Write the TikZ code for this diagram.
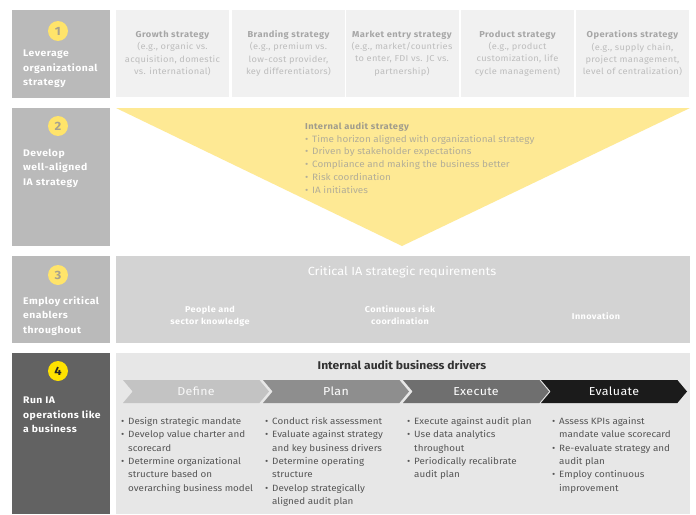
\documentclass[tikz,border=0pt]{standalone}
\usepackage{fontspec}
\setmainfont{Fira Sans}[FakeStretch=1.08]
\newfontfamily\lsfam{Fira Sans}[FakeStretch=1.08, LetterSpace=3]
\newfontfamily\bsfam{Fira Sans}[FakeStretch=1.08, LetterSpace=5]
\usetikzlibrary{shapes.symbols}
\definecolor{lbox}{HTML}{BABABA}
\definecolor{dbox}{HTML}{626262}
\definecolor{rone}{HTML}{F1F1F1}
\definecolor{ronetitle}{HTML}{A6A6A6}
\definecolor{ronebody}{HTML}{BDBDBD}
\definecolor{tri}{HTML}{FEE994}
\definecolor{circy}{HTML}{FFE46A}
\definecolor{circyy}{HTML}{FFE200}
\definecolor{numgrey}{HTML}{A7A18E}
\definecolor{rthree}{HTML}{D3D3D3}
\definecolor{rfour}{HTML}{E7E7E7}
\definecolor{chA}{HTML}{C3C3C3}
\definecolor{chB}{HTML}{8E8E8E}
\definecolor{chC}{HTML}{6F6F6F}
\definecolor{chD}{HTML}{1B1B1B}
\definecolor{bultext}{HTML}{555555}
\definecolor{tritext}{HTML}{B3AE98}
\definecolor{trititle}{HTML}{A09C8C}
\newcommand{\bu}{\makebox[7pt][l]{\textbullet}}
\newcommand{\ind}{\hspace*{7pt}}
\tikzset{
  leftbox/.style={rectangle, fill=lbox, minimum width=98pt, inner sep=0pt},
  leftlabel/.style={anchor=west, align=left, text=white, font=\bsfam\fontsize{9.6}{14.5}\selectfont\bfseries, inner sep=0pt},
  numcirc/.style={circle, fill=circy, minimum size=20pt, inner sep=0pt, text=numgrey, font=\fontsize{12}{12}\selectfont\bfseries},
  onebox/.style={rectangle, fill=rone, minimum width=113pt, minimum height=87pt, inner sep=0pt},
  onetext/.style={align=center, text=ronebody, font=\lsfam\fontsize{8.6}{12.3}\selectfont, inner sep=0pt},
  chev/.style={signal, signal to=east, signal from=west, signal pointer angle=100, minimum width=146pt, minimum height=23pt, inner sep=0pt, text=white, font=\lsfam\fontsize{11.5}{12}\selectfont},
  bullets/.style={anchor=north west, align=left, text=bultext, font=\fontsize{9.1}{13.4}\selectfont, inner sep=0pt},
  reqitem/.style={align=center, text=white, font=\bsfam\fontsize{8.4}{12.5}\selectfont\bfseries, inner sep=0pt},
}
\newcommand{\rtitle}[1]{\textcolor{ronetitle}{\bsfam\fontsize{8.6}{12.3}\selectfont\bfseries #1}}
\begin{document}
\begin{tikzpicture}[x=1pt, y=-1pt]
\useasboundingbox[fill=white] (0,0) rectangle (696,514);
% left column
\node[leftbox, minimum height=88pt] (lb1) at (61,54) {};
\node[leftbox, minimum height=138pt] (lb2) at (61,177) {};
\node[leftbox, minimum height=87pt] (lb3) at (61,299.5) {};
\node[leftbox, fill=dbox, minimum height=161pt] (lb4) at (61,433.5) {};
\node[numcirc] (c1) at (58,31) {1};
\node[numcirc] (c2) at (58,126) {2};
\node[numcirc] (c3) at (58,275) {3};
\node[numcirc, fill=circyy, text=black!85] (c4) at (58,371) {4};
\node[leftlabel] (l1) at (23,69) {Leverage\\organizational\\strategy};
\node[leftlabel] (l2) at (23,168) {Develop\\well-aligned\\IA strategy};
\node[leftlabel] (l3) at (23,316) {Employ critical\\enablers\\throughout};
\node[leftlabel] (l4) at (23,415) {Run IA\\operations like\\a business};
% row 1
\node[onebox] (g) at (172.5,53.5) {};
\node[onebox] (b) at (288.5,53.5) {};
\node[onebox] (m) at (402,53.5) {};
\node[onebox] (p) at (517.5,53.5) {};
\node[onebox] (o) at (632.5,53.5) {};
\node[onetext] (gt) at (g) {\rtitle{Growth strategy}\\(e.g., organic vs.\\acquisition, domestic\\vs. international)};
\node[onetext] (bt) at (b) {\rtitle{Branding strategy}\\(e.g., premium vs.\\low-cost provider,\\key differentiators)};
\node[onetext] (mt) at (m) {\rtitle{Market entry strategy}\\(e.g., market/countries\\to enter, FDI vs. JC vs.\\partnership)};
\node[onetext] (pt) at (p) {\rtitle{Product strategy}\\(e.g., product\\customization, life\\cycle management)};
\node[onetext] (ot) at (o) {\rtitle{Operations strategy}\\(e.g., supply chain,\\project management,\\level of centralization)};
% row 2 triangle
\fill[tri] (116,108) -- (690,108) -- (402,246) -- cycle;
\node[anchor=west, align=left, text=tritext, font=\fontsize{9.2}{12.9}\selectfont, inner sep=0pt] (ias) at (305,158)
  {\textcolor{trititle}{\bsfam\bfseries\fontsize{8.6}{12.9}\selectfont Internal audit strategy}\\
   \bu Time horizon aligned with organizational strategy\\
   \bu Driven by stakeholder expectations\\
   \bu Compliance and making the business better\\
   \bu Risk coordination\\
   \bu IA initiatives};
% row 3
\node[rectangle, fill=rthree, minimum width=574pt, minimum height=87pt, inner sep=0pt] (r3) at (403,299.5) {};
\node[text=white, font=\fontsize{11.8}{12}\selectfont, inner sep=0pt] (r3t) at (402,272) {Critical IA strategic requirements};
\node[reqitem] (q1) at (210,316) {People and\\sector knowledge};
\node[reqitem] (q2) at (400,315) {Continuous risk\\coordination};
\node[reqitem] (q3) at (596,316) {Innovation};
% row 4
\node[rectangle, fill=rfour, minimum width=574pt, minimum height=161pt, inner sep=0pt] (r4) at (403,433.5) {};
\node[text=black!80, font=\fontsize{11.2}{12}\selectfont\bfseries, inner sep=0pt] (r4t) at (402,365) {Internal audit business drivers};
\node[chev, fill=chA, text=white!88!chA] (d) at (196,391.5) {Define};
\node[chev, fill=chB] (pl) at (336,391.5) {Plan};
\node[chev, fill=chC] (ex) at (476,391.5) {Execute};
\node[chev, fill=chD] (ev) at (614,391.5) {Evaluate};
\node[bullets] (bd) at (121,417) {\bu Design strategic mandate\\ \bu Develop value charter and\\ \ind scorecard\\ \bu Determine organizational\\ \ind structure based on\\ \ind overarching business model};
\node[bullets] (bp) at (265,417) {\bu Conduct risk assessment\\ \bu Evaluate against strategy\\ \ind and key business drivers\\ \bu Determine operating\\ \ind structure\\ \bu Develop strategically\\ \ind aligned audit plan};
\node[bullets] (be) at (407,417) {\bu Execute against audit plan\\ \bu Use data analytics\\ \ind throughout\\ \bu Periodically recalibrate\\ \ind audit plan};
\node[bullets] (bv) at (552,417) {\bu Assess KPIs against\\ \ind mandate value scorecard\\ \bu Re-evaluate strategy and\\ \ind audit plan\\ \bu Employ continuous\\ \ind improvement};
\end{tikzpicture}
\end{document}
